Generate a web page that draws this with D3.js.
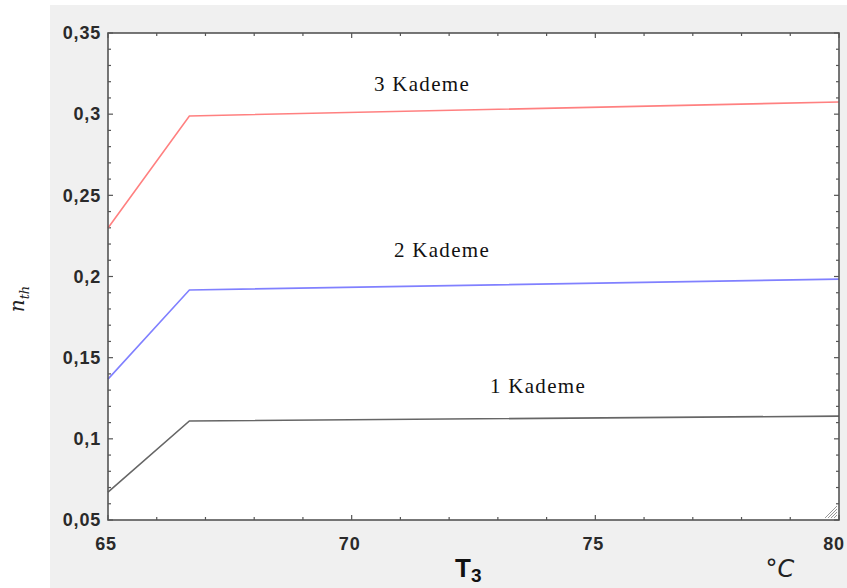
<!DOCTYPE html>
<html>
<head>
<meta charset="utf-8">
<script src="https://cdn.jsdelivr.net/npm/d3@7"></script>
<style>
  body { margin: 0; background: #fff; }
  svg { display: block; }
</style>
</head>
<body>
<svg id="chart" width="847" height="588"></svg>
<script>
// Temperature T3 (°C)
const temps = [65, 66.67, 80];
// efficiency per stage
const stage1 = [0.0672, 0.111, 0.114];
const stage2 = [0.1368, 0.1917, 0.1984];
const stage3 = [0.2299, 0.2989, 0.3075];

const seriesNames = ["1 Kademe", "2 Kademe", "3 Kademe"];
const seriesColors = ["#666666", "#8080ff", "#ff8080"];

const xTicks = [65, 70, 75, 80];
const yTicks = [0.05, 0.1, 0.15, 0.2, 0.25, 0.3, 0.35];

const margin = { top: 33, right: 8, bottom: 68, left: 108 };
const width = 847 - margin.left - margin.right;
const height = 588 - margin.top - margin.bottom;

const svg = d3.select("#chart");

// gray panel background
svg.append("rect")
  .attr("x", 50).attr("y", 5)
  .attr("width", 797).attr("height", 583)
  .attr("fill", "#f0f0f0");

const g = svg.append("g")
  .attr("transform", `translate(${margin.left},${margin.top})`);

g.append("rect")
  .attr("width", width).attr("height", height)
  .attr("fill", "#fff");

const x = d3.scaleLinear().domain([65, 80]).range([0, width]);
const y = d3.scaleLinear().domain([0.05, 0.35]).range([height, 0]);

// minor ticks, drawn inward on all four sides
const xMinor = d3.range(65, 80.001, 1);
const yMinor = d3.range(0.05, 0.3501, 0.01);

function tickLen(v, step) {
  return Math.abs(v / step - Math.round(v / step)) < 1e-6 ? 5 : 3;
}

g.selectAll(".xtb").data(xMinor).enter().append("line")
  .attr("x1", d => x(d)).attr("x2", d => x(d))
  .attr("y1", height).attr("y2", d => height - tickLen(d, 5))
  .attr("stroke", "#555").attr("stroke-width", 1.2);
g.selectAll(".xtt").data(xMinor).enter().append("line")
  .attr("x1", d => x(d)).attr("x2", d => x(d))
  .attr("y1", 0).attr("y2", d => tickLen(d, 5))
  .attr("stroke", "#555").attr("stroke-width", 1.2);
g.selectAll(".ytl").data(yMinor).enter().append("line")
  .attr("y1", d => y(d)).attr("y2", d => y(d))
  .attr("x1", 0).attr("x2", d => tickLen(d, 0.05))
  .attr("stroke", "#555").attr("stroke-width", 1.2);
g.selectAll(".ytr").data(yMinor).enter().append("line")
  .attr("y1", d => y(d)).attr("y2", d => y(d))
  .attr("x1", width).attr("x2", d => width - tickLen(d, 0.05))
  .attr("stroke", "#555").attr("stroke-width", 1.2);

// tick labels
const tickFont = "bold 18px 'Liberation Sans', Arial, sans-serif";
const fmt = d => String(+d.toFixed(2)).replace(".", ",");
g.selectAll(".ylab").data(yTicks).enter().append("text")
  .attr("x", -7).attr("y", d => y(d))
  .attr("dy", "0.35em")
  .attr("text-anchor", "end")
  .style("font", tickFont)
  .style("letter-spacing", "0.8px")
  .attr("fill", "#2a2a2a")
  .text(fmt);

g.selectAll(".xlab").data(xTicks).enter().append("text")
  .attr("x", d => d === 80 ? x(d) - 5 : x(d) - 2)
  .attr("y", height + 30)
  .attr("text-anchor", "middle")
  .style("font", tickFont)
  .style("letter-spacing", "0.8px")
  .attr("fill", "#2a2a2a")
  .text(d => d);

// lines
const allSeries = [stage1, stage2, stage3];
const line = d3.line()
  .x((d, i) => x(temps[i]))
  .y(d => y(d));

allSeries.forEach((s, i) => {
  g.append("path")
    .datum(s)
    .attr("fill", "none")
    .attr("stroke", seriesColors[i])
    .attr("stroke-width", 1.6)
    .attr("d", line);
});

// series labels
const labelX = [538, 442, 422];
const labelY = [386, 250, 84];
seriesNames.forEach((name, i) => {
  g.append("text")
    .attr("x", labelX[i] - margin.left)
    .attr("y", labelY[i] - margin.top)
    .attr("dy", "0.35em")
    .attr("text-anchor", "middle")
    .style("font", "21px 'Liberation Serif', 'Times New Roman', serif")
    .style("letter-spacing", "1.3px")
    .attr("fill", "#111")
    .text(name);
});

// frame
g.append("rect")
  .attr("width", width).attr("height", height)
  .attr("fill", "none")
  .attr("stroke", "#555").attr("stroke-width", 1.6);

// resize grip at bottom-right
const grip = g.append("g").attr("transform", `translate(${width - 2},${height - 2})`);
[3, 6, 9, 12].forEach(k => {
  grip.append("line")
    .attr("x1", -k).attr("y1", 0).attr("x2", 0).attr("y2", -k)
    .attr("stroke", "#999").attr("stroke-width", 1);
});

// axis titles
const xt = svg.append("text")
  .attr("x", 455).attr("y", 577)
  .style("font", "bold 26px 'Liberation Sans', Arial, sans-serif")
  .attr("fill", "#111");
xt.append("tspan").text("T");
xt.append("tspan").attr("dy", 5).style("font-size", "19px").text("3");

svg.append("text")
  .attr("x", 780).attr("y", 577)
  .attr("text-anchor", "middle")
  .style("font", "italic 24px 'DejaVu Sans', sans-serif")
  .attr("fill", "#222")
  .text("°C");

svg.append("text")
  .attr("transform", "translate(24,299) rotate(-90)")
  .attr("text-anchor", "middle")
  .style("font", "italic 20px 'DejaVu Serif', serif")
  .attr("fill", "#222")
  .text("n")
  .append("tspan")
  .attr("dy", 5)
  .style("font-size", "13px")
  .text("th");
</script>
</body>
</html>
